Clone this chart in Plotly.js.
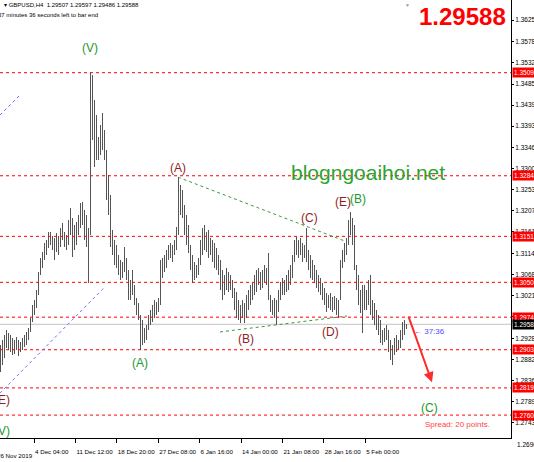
<!DOCTYPE html>
<html><head><meta charset="utf-8">
<script src="https://cdn.plot.ly/plotly-3.0.1.min.js"></script>
<style>html,body{margin:0;padding:0;background:#fff;overflow:hidden}#chart{width:534px;height:462px}</style>
</head><body><div id="chart"></div>
<script>
// H4 bar highs / lows (sampled), oldest to newest
const barHigh = [1.2913,1.2924,1.2935,1.2946,1.2940,1.2935,1.2929,1.2924,1.2931,1.2924,
1.2920,1.2929,1.2935,1.2942,1.2951,1.2973,1.3001,1.3012,1.3034,1.3073,
1.3104,1.3117,1.3137,1.3143,1.3161,1.3161,1.3152,1.3148,1.3159,1.3152,
1.3170,1.3181,1.3161,1.3154,1.3187,1.3213,1.3192,1.3176,1.3183,1.3198,
1.3224,1.3227,1.3209,1.3198,1.3170,1.3511,1.3505,1.3450,1.3417,1.3369,
1.3395,1.3422,1.3384,1.3340,1.3286,1.3242,1.3165,1.3143,1.3132,1.3111,
1.3100,1.3095,1.3128,1.3104,1.3078,1.3056,1.3078,1.3045,1.3016,1.3005,
1.2979,1.2968,1.2951,1.2957,1.2979,1.2990,1.3001,1.3012,1.3008,1.3016,
1.3100,1.3104,1.3111,1.3122,1.3132,1.3137,1.3132,1.3143,1.3172,1.3281,
1.3264,1.3253,1.3220,1.3198,1.3176,1.3132,1.3111,1.3095,1.3089,1.3104,
1.3143,1.3170,1.3176,1.3161,1.3165,1.3148,1.3143,1.3137,1.3126,1.3111,
1.3100,1.3078,1.3067,1.3082,1.3073,1.3067,1.3056,1.3038,1.3029,1.3012,
1.3001,1.3012,1.3005,1.3023,1.3034,1.3045,1.3049,1.3067,1.3078,1.3082,
1.3073,1.3078,1.3089,1.3082,1.3115,1.3023,1.3012,1.3016,1.3012,1.3034,
1.3051,1.3060,1.3056,1.3067,1.3078,1.3089,1.3111,1.3143,1.3150,1.3143,
1.3148,1.3137,1.3132,1.3170,1.3122,1.3111,1.3100,1.3089,1.3078,1.3067,
1.3060,1.3049,1.3038,1.3027,1.3023,1.3027,1.3019,1.3021,1.3016,1.3012,
1.3100,1.3122,1.3137,1.3148,1.3187,1.3205,1.3192,1.3176,1.3089,1.3067,
1.3034,1.3045,1.3045,1.3034,1.3056,1.3067,1.3012,1.3005,1.2990,1.2979,
1.2968,1.2946,1.2951,1.2957,1.2946,1.2924,1.2913,1.2929,1.2935,1.2924,
1.2946,1.2964,1.2968,1.29597];
const barLow = [1.2854,1.2870,1.2885,1.2907,1.2903,1.2898,1.2892,1.2894,1.2903,1.2889,
1.2898,1.2903,1.2909,1.2913,1.2924,1.2942,1.2964,1.2979,1.2994,1.3023,
1.3067,1.3082,1.3100,1.3111,1.3126,1.3132,1.3122,1.3100,1.3117,1.3111,
1.3128,1.3143,1.3128,1.3122,1.3132,1.3154,1.3106,1.3122,1.3132,1.3154,
1.3170,1.3176,1.3143,1.3128,1.3049,1.3154,1.3362,1.3303,1.3319,1.3319,
1.3330,1.3340,1.3319,1.3231,1.3198,1.3128,1.3111,1.3089,1.3082,1.3067,
1.3056,1.3060,1.3073,1.3056,1.3012,1.3012,1.3023,1.3001,1.2979,1.2968,
1.2903,1.2913,1.2918,1.2924,1.2946,1.2957,1.2964,1.2973,1.2979,1.2986,
1.3001,1.3060,1.3073,1.3082,1.3100,1.3104,1.3095,1.3111,1.3122,1.3154,
1.3198,1.3192,1.3154,1.3132,1.3115,1.3078,1.3049,1.3056,1.3060,1.3067,
1.3089,1.3111,1.3122,1.3117,1.3104,1.3111,1.3095,1.3082,1.3078,1.3067,
1.3034,1.3012,1.3023,1.3034,1.3029,1.3034,1.3016,1.2990,1.2973,1.2968,
1.2962,1.2973,1.2962,1.2973,1.2990,1.3001,1.3012,1.3023,1.3029,1.3045,
1.3034,1.3038,1.3051,1.3045,1.3012,1.2986,1.2979,1.2973,1.2957,1.2986,
1.3012,1.3023,1.3023,1.3029,1.3034,1.3045,1.3060,1.3095,1.3111,1.3104,
1.3111,1.3095,1.3104,1.3095,1.3078,1.3060,1.3056,1.3049,1.3038,1.3029,
1.3023,1.3012,1.3001,1.2986,1.2994,1.2990,1.2986,1.2990,1.2979,1.2973,
1.3012,1.3082,1.3095,1.3111,1.3132,1.3154,1.3132,1.3078,1.3034,1.3001,
1.2984,1.2940,1.2990,1.2990,1.3001,1.2979,1.2968,1.2957,1.2946,1.2935,
1.2918,1.2913,1.2920,1.2924,1.2898,1.2881,1.2870,1.2892,1.2898,1.2903,
1.2907,1.2924,1.2935,1.29486];

const xTickVals = [16.75, 37.45, 58.15, 78.85, 99.55, 120.25, 140.95, 161.65, 182.35];
const xTickText = ['4 Dec 04:00','11 Dec 12:00','18 Dec 20:00','27 Dec 08:00','6 Jan 16:00','14 Jan 00:00','21 Jan 08:00','28 Jan 16:00','5 Feb 00:00'];
const firstDateLabel = '26 Nov 2019';
const yTickVals = [1.3625,1.3578,1.3532,1.3485,1.3439,1.3393,1.3346,1.3300,1.3253,1.3207,1.3161,1.3114,1.3068,1.3021,1.2975,1.2928,1.2882,1.2836,1.2789,1.2743];
const lowestTick = 1.2696;
const levelPrices = [1.35098,1.32841,1.31514,1.30507,1.29744,1.29031,1.28195,1.27600];
const currentPrice = 1.29588;
const lastOHLC = ['1.29507','1.29597','1.29486','1.29588'];

const waveText  = ['(V)','(A)','(A)','(B)','(C)','(D)','(E)','(B)','(C)','(E)','(V)'];
const waveX     = [44.75, 88.75, 69.75, 122.75, 154.25, 164.75, 171.25, 178.75, 214.25, 0.75, 0.75];
const waveY     = [1.3564, 1.3301, 1.2874, 1.2927, 1.3192, 1.2942, 1.3227, 1.3233, 1.2776, 1.2793, 1.2725];
const waveKind  = ['g','r','g','r','r','r','r','g','g','r','g'];

const triUpperX = [88.75, 172.25], triUpperY = [1.3281, 1.3141];
const triLowerX = [109.75, 173.25], triLowerY = [1.2942, 1.2977];
const chanLowX = [-0.25, 52.25], chanLowY = [1.2808, 1.3041];
const chanUpX = [-0.25, 9.75], chanUpY = [1.3417, 1.3461];
const arrowFrom = [203.75, 1.2979], arrowTo = [215.75, 1.2832];
const timerPos = [205.75, 1.2944];

const yMin = 1.27098, yMax = 1.3669;
const FONT = 'Liberation Sans, Arial, sans-serif';
const idx = barHigh.map((_, i) => i);

const trace = {
  type: 'bar', x: idx, base: barLow,
  y: barHigh.map((h, i) => h - barLow[i]),
  width: 0.45,
  marker: {color: '#555555', line: {width: 0}},
  hoverinfo: 'skip', showlegend: false
};

const shapes = [];
shapes.push({type:'line', xref:'paper', x0:0, x1:1, yref:'y', y0:currentPrice, y1:currentPrice, line:{color:'#c4c4c4', width:1}, layer:'below'});
levelPrices.forEach(p => shapes.push({type:'line', xref:'paper', x0:0, x1:1, yref:'y', y0:p, y1:p, line:{color:'#ff0000', width:1, dash:'dot'}}));
shapes.push({type:'line', xref:'x', yref:'y', x0:triUpperX[0], x1:triUpperX[1], y0:triUpperY[0], y1:triUpperY[1], line:{color:'#3a9a3a', width:1, dash:'dot'}});
shapes.push({type:'line', xref:'x', yref:'y', x0:triLowerX[0], x1:triLowerX[1], y0:triLowerY[0], y1:triLowerY[1], line:{color:'#3a9a3a', width:1, dash:'dot'}});
shapes.push({type:'line', xref:'x', yref:'y', x0:chanLowX[0], x1:chanLowX[1], y0:chanLowY[0], y1:chanLowY[1], line:{color:'#7070ff', width:1, dash:'dot'}});
shapes.push({type:'line', xref:'x', yref:'y', x0:chanUpX[0], x1:chanUpX[1], y0:chanUpY[0], y1:chanUpY[1], line:{color:'#7070ff', width:1, dash:'dot'}});

const ann = [];
const colR = '#8e1f1f', colG = '#22992b';
waveText.forEach((t, i) => ann.push({x: waveX[i], y: waveY[i], xref:'x', yref:'y', text: t, showarrow:false,
  font:{family: FONT, size: 12, color: waveKind[i] === 'g' ? colG : colR}}));
levelPrices.forEach(p => ann.push({xref:'paper', x:1, xanchor:'left', xshift:1, yref:'y', y:p, yanchor:'middle',
  text: p.toFixed(5), showarrow:false, bgcolor:'#ff0000', borderpad:1, font:{family:FONT, size:6.5, color:'#ffffff'}}));
ann.push({xref:'paper', x:1, xanchor:'left', xshift:1, yref:'y', y:currentPrice, yanchor:'middle',
  text: currentPrice.toFixed(5), showarrow:false, bgcolor:'#000000', borderpad:1, font:{family:FONT, size:6.5, color:'#ffffff'}});
ann.push({xref:'paper', x:1, xanchor:'left', xshift:4, yref:'paper', y:(lowestTick - yMin)/(yMax - yMin), yanchor:'middle',
  text: lowestTick.toFixed(5), showarrow:false, font:{family:FONT, size:6.5, color:'#000'}});
ann.push({xref:'paper', x:-5/511, xanchor:'left', yref:'paper', y:1-455/438, yanchor:'middle',
  text: firstDateLabel, showarrow:false, font:{family:FONT, size:6.2, color:'#000'}});
// arrow
ann.push({x: arrowTo[0], y: arrowTo[1], xref:'x', yref:'y', axref:'x', ayref:'y', ax: arrowFrom[0], ay: arrowFrom[1],
  text:'', showarrow:true, arrowhead:2, arrowsize:1, arrowwidth:2, arrowcolor:'#ff2a2a'});
ann.push({x: timerPos[0], y: timerPos[1], xref:'x', yref:'y', xanchor:'left', text:'\u2190 37:36', showarrow:false,
  font:{family:FONT, size:8, color:'#4d4dff'}});
// texts
ann.push({xref:'paper', yref:'paper', x:508/511, y:1-16/438, xanchor:'right', yanchor:'middle', text:'<b>' + currentPrice.toFixed(5) + '</b>',
  showarrow:false, font:{family:FONT, size:24, color:'#ff0000'}});
ann.push({xref:'paper', yref:'paper', x:368/511, y:1-172/438, xanchor:'center', yanchor:'middle', text:'blogngoaihoi.net',
  showarrow:false, font:{family:FONT, size:21, color:'#2ea32e'}});
ann.push({xref:'paper', yref:'paper', x:423/511, y:1-424/438, xanchor:'left', yanchor:'middle', text:'Spread: 20 points.',
  showarrow:false, font:{family:FONT, size:8, color:'#ff4444'}});
ann.push({xref:'paper', yref:'paper', x:2/511, y:1-5/438, xanchor:'left', yanchor:'middle',
  text:'\u25BE GBPUSD,H4  ' + lastOHLC.join(' '), showarrow:false, font:{family:FONT, size:6, color:'#000'}});
ann.push({xref:'paper', yref:'paper', x:-4/511, y:1-15/438, xanchor:'left', yanchor:'middle',
  text:'37 minutes 36 seconds left to bar end', showarrow:false, font:{family:FONT, size:6, color:'#000'}});
ann.push({xref:'paper', yref:'paper', x:407/511, y:1, xanchor:'center', yanchor:'top',
  text:'\u25BC', showarrow:false, font:{family:FONT, size:5, color:'#9a9a9a'}});

const layout = {
  width: 534, height: 462,
  margin: {l:0, r:23, t:0, b:24},
  paper_bgcolor:'#ffffff', plot_bgcolor:'#ffffff',
  showlegend:false, bargap:0,
  xaxis: {range:[-0.25, 255.25], showgrid:false, zeroline:false, showline:true, linecolor:'#000', linewidth:1,
    ticks:'outside', ticklen:4, tickcolor:'#000', tickvals:xTickVals, ticktext:xTickText, tickangle:0,
    ticklabelposition:'outside right', ticklabelstandoff:8, tickfont:{family:FONT, size:6.2, color:'#000'}, fixedrange:true},
  yaxis: {side:'right', range:[yMin, yMax], showgrid:false, zeroline:false, showline:true, linecolor:'#000', linewidth:1,
    ticks:'outside', ticklen:2, tickcolor:'#000', tickvals:yTickVals, tickformat:'.5f',
    tickfont:{family:FONT, size:6.5, color:'#000'}, fixedrange:true},
  shapes: shapes, annotations: ann
};
Plotly.newPlot('chart', [trace], layout, {displayModeBar:false, staticPlot:true});
</script></body></html>
